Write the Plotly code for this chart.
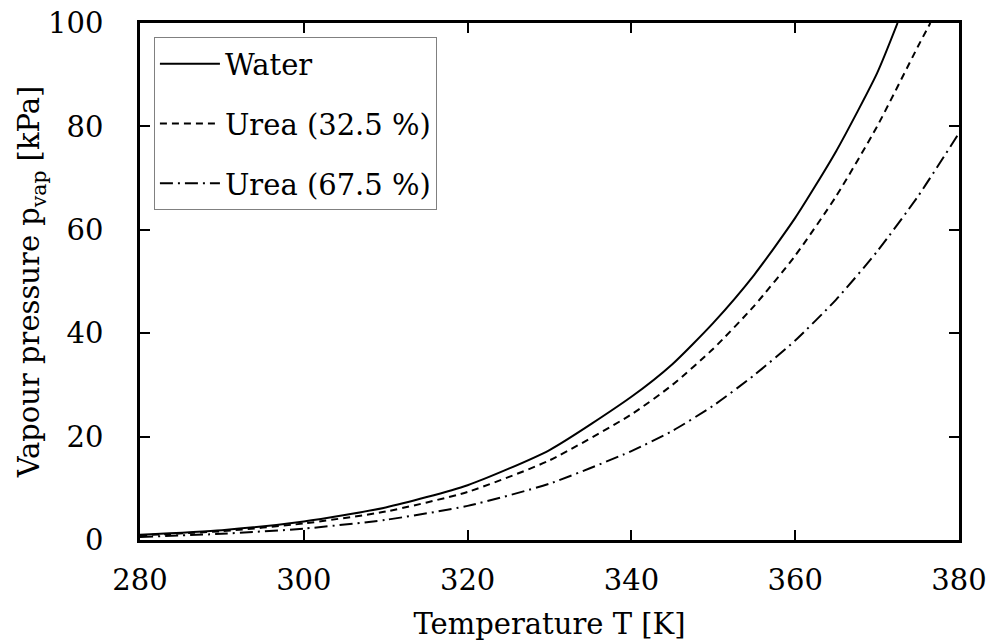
import plotly.graph_objects as go

# Temperature [K]
T_water = [280, 290, 300, 310, 320, 330, 340, 345, 350, 355, 360, 365, 370, 372.5]
p_water = [1.0, 1.9, 3.6, 6.3, 10.6, 17.4, 27.7, 34.0, 42.0, 51.3, 62.3, 75.2, 90.3, 100.0]

T_urea325 = [280, 290, 300, 310, 320, 330, 340, 345, 350, 355, 360, 365, 370, 375, 376.5]
p_urea325 = [0.9, 1.7, 3.2, 5.5, 9.3, 15.4, 24.3, 30.0, 37.0, 45.3, 55.0, 66.5, 80.0, 95.5, 100.0]

T_urea675 = [280, 290, 300, 310, 320, 330, 340, 345, 350, 355, 360, 365, 370, 375, 380]
p_urea675 = [0.6, 1.2, 2.2, 3.9, 6.6, 10.9, 17.2, 21.1, 26.0, 31.9, 38.6, 46.5, 55.8, 66.5, 78.7]

names = ["Water", "Urea (32.5 %)", "Urea (67.5 %)"]
x_ticks = [280, 300, 320, 340, 360, 380]
y_ticks = [0, 20, 40, 60, 80, 100]

FONT = "DejaVu Serif"
FS = 29

fig = go.Figure()
fig.add_trace(go.Scatter(x=T_water, y=p_water, mode="lines", name=names[0],
                         legendgroup="a",
                         line=dict(color="black", width=2, dash="solid", shape="spline", smoothing=0.6)))
fig.add_trace(go.Scatter(x=T_urea325, y=p_urea325, mode="lines", name=names[1],
                         legendgroup="b",
                         line=dict(color="black", width=2, dash="7px,5px", shape="spline", smoothing=0.6)))
fig.add_trace(go.Scatter(x=T_urea675, y=p_urea675, mode="lines", name=names[2],
                         legendgroup="c",
                         line=dict(color="black", width=2, dash="13px,5px,2px,5px", shape="spline", smoothing=0.6)))

axis_common = dict(
    showgrid=False, zeroline=False, showline=True, linecolor="black", linewidth=2.5,
    mirror="ticks", ticks="inside", ticklen=10, tickwidth=2, tickcolor="black",
    tickfont=dict(family=FONT, size=FS, color="black"), automargin=False,
    ticklabeloverflow="allow",
)

fig.update_layout(
    width=989, height=641,
    margin=dict(l=140, r=30, t=23, b=101),
    paper_bgcolor="white", plot_bgcolor="white",
    font=dict(family=FONT, size=FS, color="black"),
    xaxis=dict(range=[280, 380], tickvals=x_ticks, ticklabelstandoff=12,
               title=dict(text="Temperature T [K]", font=dict(family=FONT, size=FS), standoff=21),
               **axis_common),
    yaxis=dict(range=[0, 100], tickvals=y_ticks, ticklabelstandoff=28,
               title=dict(text="Vapour pressure p<sub>vap</sub> [kPa]", font=dict(family=FONT, size=FS), standoff=0),
               **axis_common),
    legend=dict(x=0.017, y=0.972, xanchor="left", yanchor="top",
                bgcolor="white", bordercolor="#808080", borderwidth=1,
                font=dict(family=FONT, size=FS, color="black"),
                tracegroupgap=19, itemwidth=60),
    showlegend=True,
)

# remove the default page margin so the figure fills the window exactly
fig.write_html("out.html", config={"displayModeBar": False},
               post_script="document.body.style.margin='0px';document.body.style.overflow='hidden';")
